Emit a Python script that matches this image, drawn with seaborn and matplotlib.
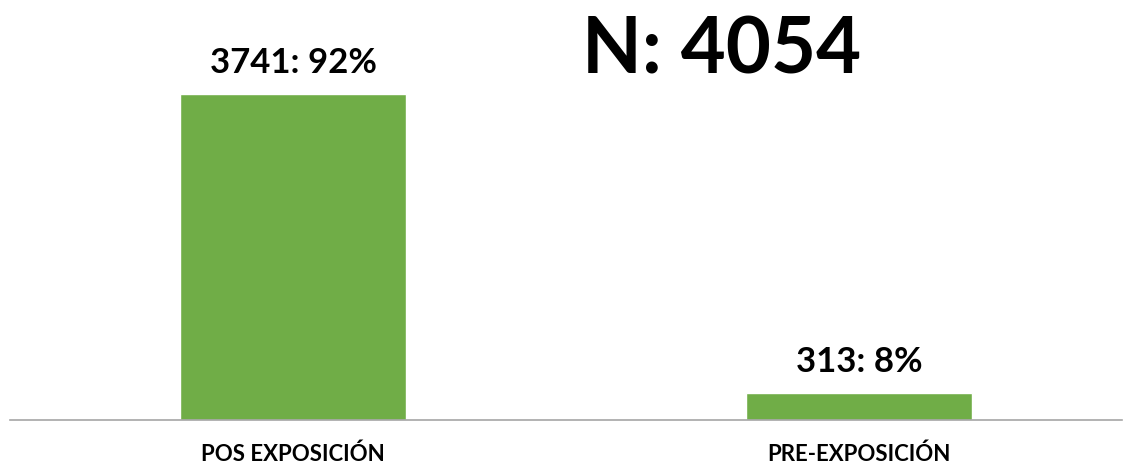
import matplotlib
matplotlib.use("Agg")
import matplotlib.pyplot as plt
import seaborn as sns
import pandas as pd

categories = ["POS EXPOSICIÓN", "PRE-EXPOSICIÓN"]
values = [3741, 313]
percents = [92, 8]
total = 4054

sns.set_theme(style="white")
plt.rcParams['font.family'] = ['Lato', 'DejaVu Sans']

df = pd.DataFrame({"cat": categories, "val": values})

fig = plt.figure(figsize=(11.36, 4.68), dpi=100)
ax = fig.add_axes([10/1136, 1 - 420/468, (1122-10)/1136, (420-71.4)/468])
sns.barplot(data=df, x="cat", y="val", color="#70AD47", width=0.4, saturation=1, ax=ax)
ax.set_xlim(-0.5, (1122-10)/566 - 0.5)
ax.set_ylim(0, 4000)
for s in ["top", "right", "left"]:
    ax.spines[s].set_visible(False)
ax.spines["bottom"].set_color("#A6A6A6")
ax.spines["bottom"].set_linewidth(1.2)
ax.set_yticks([])
ax.set_xlabel("")
ax.set_ylabel("")
ax.tick_params(axis="x", length=0, pad=17, labelsize=16)
for lab in ax.get_xticklabels():
    lab.set_fontweight("bold")
    lab.set_color("black")

for i, (v, p) in enumerate(zip(values, percents)):
    ax.annotate(f"{v}: {p}%", (i, v), xytext=(0, 15), textcoords="offset points",
                ha="center", va="baseline", fontsize=25, fontweight="bold", color="black")

fig.text(722/1136, 1 - 74/468, f"N: {total}", ha="center", va="baseline",
         fontsize=56, fontweight="bold", color="black")

fig.savefig("out.png", dpi=100)
